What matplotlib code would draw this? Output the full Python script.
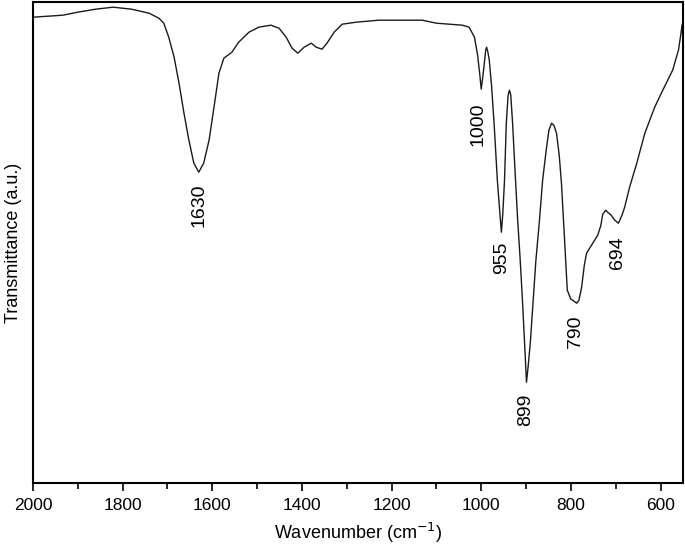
import matplotlib
matplotlib.use("Agg")
import matplotlib.pyplot as plt
from matplotlib.ticker import MultipleLocator

plt.rcParams['font.family'] = ['Liberation Sans', 'DejaVu Sans']

# FTIR spectrum (wavenumber in cm-1)
wavenumber = [2000, 1966, 1933, 1900, 1860, 1821, 1780, 1741, 1719, 1708, 1697,
              1685, 1674, 1663, 1652, 1641, 1630, 1619, 1607, 1596, 1585, 1574,
              1556, 1541, 1518, 1496, 1469, 1451, 1435, 1422, 1409, 1395, 1379,
              1368, 1355, 1344, 1328, 1310, 1279, 1228, 1132, 1100, 1042, 1027,
              1015, 1008, 1003, 1000, 996, 993, 990, 988, 985, 982, 977, 971,
              964, 958, 955, 952, 948, 944, 940, 937, 934, 930, 924, 919, 913,
              908, 903, 899, 895, 890, 886, 878, 870, 863, 855, 849, 843, 838,
              832, 826, 821, 814, 808, 800, 796, 787, 782, 776, 770, 765, 754,
              740, 733, 729, 722, 718, 710, 702, 694, 686, 680, 669, 653, 635,
              613, 595, 573, 560, 555, 552, 549]
# vertical position measured from the top of the frame (pixels), converted below
depth = [17, 16, 15, 12, 9, 7, 9, 13, 18, 23, 37,
         57, 83, 113, 140, 163, 172, 163, 140, 107, 73, 58,
         52, 42, 32, 27, 25, 28, 37, 48, 53, 47, 43,
         47, 49, 43, 32, 24, 22, 20, 20, 23, 25, 27,
         37, 55, 75, 89, 75, 63, 50, 47, 52, 60, 85, 125,
         180, 215, 232, 215, 180, 123, 95, 90, 95, 123, 175, 217, 260,
         300, 345, 382, 365, 340, 313, 260, 220, 180, 150, 130, 123, 125,
         133, 155, 183, 240, 290, 299, 300, 303, 300, 287, 265, 253, 245,
         235, 225, 214, 210, 212, 215, 220, 223, 215, 207, 187, 163, 133,
         107, 90, 70, 50, 35, 25, 20]
transmittance = [483 - d for d in depth]

# peak labels: text, wavenumber, depth of label centre
peak_labels = ["1630", "1000", "955", "899", "790", "694"]
peak_wn = [1630, 1007, 955, 901, 790, 696]
peak_depth = [205, 124, 258, 410, 332, 252]

fig = plt.figure(figsize=(6.85, 5.46), dpi=100)
ax = fig.add_axes([0.048, 0.115, 0.949, 0.881])

ax.plot(wavenumber, transmittance, color='#1a1a1a', linewidth=1.0)

for lab, x, d in zip(peak_labels, peak_wn, peak_depth):
    ax.text(x, 483 - d, lab, rotation=90, ha='center', va='center', fontsize=14)

ax.set_xlim(2000, 550)
ax.set_ylim(0, 481)
ax.xaxis.set_major_locator(MultipleLocator(200))
ax.xaxis.set_minor_locator(MultipleLocator(100))
ax.tick_params(axis='x', which='major', direction='out', length=6, width=1.2,
               labelsize=12.5, pad=5)
ax.tick_params(axis='x', which='minor', direction='out', length=4, width=1.2)
ax.set_yticks([])
for sp in ax.spines.values():
    sp.set_linewidth(1.5)

ax.set_xlabel('Wavenumber (cm$^{-1}$)', fontsize=13, labelpad=5)
ax.set_ylabel('Transmittance (a.u.)', fontsize=13, labelpad=8)

fig.savefig('out.png', dpi=100)
